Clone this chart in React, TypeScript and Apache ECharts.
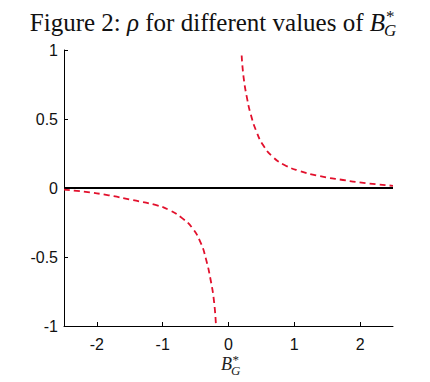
import React, { useEffect, useRef } from "react";
import * as echarts from "echarts";

const xTicks = [-2, -1, 0, 1, 2];
const yTicks = [-1, -0.5, 0, 0.5, 1];

const posX = [0.2, 0.23, 0.28, 0.34, 0.42, 0.52, 0.67, 0.85, 1.08, 1.38, 1.74, 2.09, 2.5];
const posY = [0.96, 0.8, 0.655, 0.53, 0.415, 0.315, 0.227, 0.167, 0.124, 0.087, 0.058, 0.035, 0.016];

const negX = [-2.5, -2.17, -1.82, -1.46, -1.11, -0.9, -0.7, -0.55, -0.42, -0.345, -0.27, -0.218, -0.19];
const negY = [-0.012, -0.028, -0.053, -0.087, -0.123, -0.16, -0.22, -0.29, -0.4, -0.51, -0.67, -0.83, -1.0];

const zeroX = [-2.5, 2.5];
const zeroY = [0, 0];

const zip = (xs: number[], ys: number[]) => xs.map((x, i) => [x, ys[i]]);

export default function App() {
  const ref = useRef<HTMLDivElement>(null);
  useEffect(() => {
    if (!ref.current) return;
    const chart = echarts.init(ref.current, null, { renderer: "svg" });
    const serif = "'Liberation Serif', 'Times New Roman', serif";
    const sans = "'Liberation Sans', Arial, sans-serif";
    const red = "#e2102c";
    chart.setOption({
      animation: false,
      backgroundColor: "#ffffff",
      grid: { left: 64, right: 37, top: 50, bottom: 56 },
      xAxis: {
        type: "value",
        min: -2.5,
        max: 2.5,
        axisLine: { onZero: false, lineStyle: { color: "#000", width: 1 } },
        axisTick: { inside: true, length: 4, customValues: xTicks, lineStyle: { color: "#000" } },
        axisLabel: { customValues: xTicks, color: "#111", fontFamily: sans, fontSize: 16, margin: 10 },
        splitLine: { show: false },
      },
      yAxis: {
        type: "value",
        min: yTicks[0],
        max: yTicks[yTicks.length - 1],
        interval: 0.5,
        axisLine: { show: true, onZero: false, lineStyle: { color: "#000", width: 1 } },
        axisTick: { show: true, inside: true, length: 4, lineStyle: { color: "#000" } },
        axisLabel: { color: "#111", fontFamily: sans, fontSize: 16, margin: 6 },
        splitLine: { show: false },
      },
      series: [
        {
          type: "line",
          data: zip(zeroX, zeroY),
          symbol: "none",
          lineStyle: { color: "#000", width: 2 },
          z: 2,
        },
        {
          type: "line",
          data: zip(negX, negY),
          symbol: "none",
          smooth: 0.5,
          lineStyle: { color: red, width: 1.8, type: [6, 4] },
          z: 3,
        },
        {
          type: "line",
          data: zip(posX, posY),
          symbol: "none",
          smooth: 0.5,
          lineStyle: { color: red, width: 1.8, type: [6, 4] },
          z: 3,
        },
      ],
      graphic: [
        {
          type: "text",
          x: 385,
          y: 22.6,
          style: {
            text: "{n|Figure 2: }{i|ρ}{n| for different values of }{i|B}",
            align: "right",
            verticalAlign: "middle",
            fill: "#111",
            rich: {
              n: { fontFamily: serif, fontSize: 25, fill: "#111" },
              i: { fontFamily: serif, fontSize: 25, fontStyle: "italic", fill: "#111" },
            },
          },
        },
        {
          type: "text",
          x: 386,
          y: 16,
          style: { text: "*", fontFamily: serif, fontSize: 17, fill: "#111", align: "left", verticalAlign: "middle" },
        },
        {
          type: "text",
          x: 384,
          y: 30,
          style: { text: "G", fontFamily: serif, fontSize: 17, fontStyle: "italic", fill: "#111", align: "left", verticalAlign: "middle" },
        },
        {
          type: "text",
          x: 232,
          y: 364,
          style: { text: "B", fontFamily: serif, fontSize: 18, fontStyle: "italic", fill: "#222", align: "right", verticalAlign: "middle" },
        },
        {
          type: "text",
          x: 232.5,
          y: 359,
          style: { text: "*", fontFamily: serif, fontSize: 13, fill: "#222", align: "left", verticalAlign: "middle" },
        },
        {
          type: "text",
          x: 231,
          y: 370,
          style: { text: "G", fontFamily: serif, fontSize: 13, fontStyle: "italic", fill: "#222", align: "left", verticalAlign: "middle" },
        },
      ],
    });
    return () => chart.dispose();
  }, []);
  return (
    <div
      ref={ref}
      style={{ position: "absolute", left: 0, top: 0, width: 430, height: 382, background: "#fff" }}
    />
  );
}
